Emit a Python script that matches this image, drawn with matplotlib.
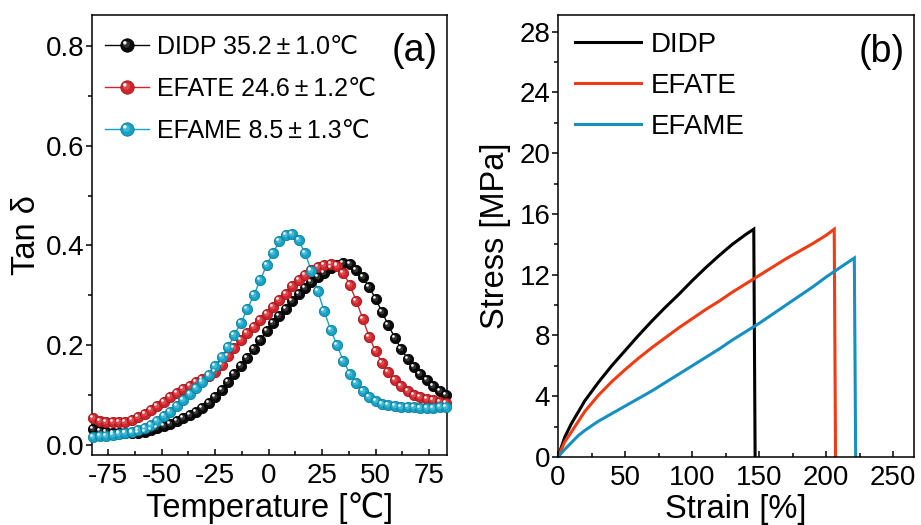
import numpy as np
import matplotlib
matplotlib.use("Agg")
import matplotlib.pyplot as plt
from matplotlib.path import Path
from matplotlib.ticker import MultipleLocator, FixedLocator
from matplotlib.legend_handler import HandlerTuple

plt.rcParams['font.family'] = ['Liberation Sans', 'DejaVu Sans']
plt.rcParams['axes.unicode_minus'] = False

# ---------------- Panel (a): DMA tan delta ----------------
temperature = [-82, -79, -76, -73, -70, -67, -64, -61, -58, -55, -52, -49, -46, -43,
               -40, -37, -34, -31, -28, -25, -22, -19, -16, -13, -10, -7, -4, -1,
               2, 5, 8, 11, 14, 17, 20, 23, 26, 29, 32, 35, 38, 41, 44, 47,
               50, 53, 56, 59, 62, 65, 68, 71, 74, 77, 80, 83]

tan_didp = [0.033, 0.029, 0.027, 0.025, 0.024, 0.024, 0.024, 0.025, 0.027, 0.030, 0.034, 0.038,
            0.043, 0.048, 0.054, 0.060, 0.067, 0.075, 0.084, 0.097, 0.111, 0.126, 0.142, 0.158,
            0.175, 0.193, 0.210, 0.229, 0.245, 0.258, 0.272, 0.288, 0.302, 0.315, 0.326, 0.336,
            0.345, 0.354, 0.360, 0.364, 0.363, 0.350, 0.336, 0.317, 0.293, 0.267, 0.240, 0.215,
            0.192, 0.173, 0.157, 0.142, 0.130, 0.119, 0.109, 0.100]

tan_efate = [0.054, 0.049, 0.046, 0.046, 0.046, 0.047, 0.050, 0.056, 0.062, 0.071, 0.079, 0.087,
             0.096, 0.104, 0.112, 0.119, 0.126, 0.133, 0.139, 0.147, 0.161, 0.178, 0.195, 0.211,
             0.224, 0.237, 0.250, 0.262, 0.276, 0.290, 0.303, 0.318, 0.330, 0.340, 0.350, 0.357,
             0.361, 0.362, 0.358, 0.345, 0.320, 0.289, 0.253, 0.217, 0.188, 0.165, 0.146, 0.130,
             0.118, 0.108, 0.101, 0.096, 0.093, 0.090, 0.087, 0.085]

tan_efame = [0.017, 0.018, 0.019, 0.020, 0.022, 0.024, 0.027, 0.030, 0.035, 0.041, 0.049, 0.058,
             0.067, 0.078, 0.090, 0.102, 0.114, 0.126, 0.140, 0.158, 0.177, 0.197, 0.220, 0.245,
             0.272, 0.300, 0.330, 0.360, 0.385, 0.408, 0.421, 0.424, 0.410, 0.385, 0.349, 0.308,
             0.268, 0.231, 0.200, 0.168, 0.143, 0.124, 0.109, 0.097, 0.089, 0.083, 0.080, 0.078,
             0.077, 0.077, 0.076, 0.075, 0.074, 0.075, 0.076, 0.077]

labels_a = ["DIDP 35.2\u2009±\u20091.0℃", "EFATE 24.6\u2009±\u20091.2℃", "EFAME 8.5\u2009±\u20091.3℃"]

# ---------------- Panel (b): stress-strain ----------------
strain_didp = [0, 5, 10, 20, 30, 40, 50, 60, 70, 80, 90, 100, 110, 120, 130, 140, 146, 147]
stress_didp = [0, 1.3, 2.2, 3.7, 4.9, 6.0, 7.0, 8.0, 8.95, 9.85, 10.7, 11.6, 12.45, 13.25, 14.0,
               14.65, 15.0, 0]

strain_efate = [0, 5, 10, 20, 30, 40, 50, 60, 70, 80, 90, 100, 110, 120, 130, 140, 150, 160, 170,
                180, 190, 200, 206, 207]
stress_efate = [0, 1.0, 1.65, 3.0, 4.05, 4.95, 5.75, 6.5, 7.2, 7.85, 8.5, 9.1, 9.7, 10.25, 10.85,
                11.4, 11.95, 12.5, 13.05, 13.55, 14.05, 14.6, 15.0, 0]

strain_efame = [0, 5, 10, 15, 20, 30, 40, 50, 60, 70, 80, 90, 100, 110, 120, 130, 140, 150, 160,
                170, 180, 190, 200, 210, 221, 222]
stress_efame = [0, 0.5, 0.95, 1.4, 1.75, 2.35, 2.85, 3.35, 3.85, 4.35, 4.9, 5.45, 6.0, 6.55, 7.1,
                7.7, 8.25, 8.8, 9.4, 10.0, 10.6, 11.2, 11.85, 12.45, 13.1, 0]

labels_b = ["DIDP", "EFATE", "EFAME"]

# colours
c_a = ["#0a0a0a", "#cf252b", "#15a2c5"]
c_a_edge = ["#000000", "#9e161b", "#0c7d99"]
c_a_mid = ["#555555", "#e86a6e", "#6fcbe2"]
c_b = ["#000000", "#f03c14", "#1590c0"]

fig = plt.figure(figsize=(9.21, 5.25), dpi=100)
ax1 = fig.add_axes([92/921, 70/525, 355/921, 440/525])
ax2 = fig.add_axes([558/921, 68/525, 356/921, 442/525])

# sphere shading: a lighter core and a white highlight, both offset to upper left
dm, rm = 0.08, 0.26
mid = Path.circle((-dm, dm), rm)
mid_scale = 2 * (dm + rm)
d, r = 0.2, 0.13
hl = Path.circle((-d, d), r)
hl_scale = 2 * (d + r)

ms = 7.4
handles = []
for y, c, ce, cm in zip([tan_didp, tan_efate, tan_efame], c_a, c_a_edge, c_a_mid):
    ln, = ax1.plot(temperature, y, '-', color=c, lw=1.0, clip_on=False, zorder=2)
    mk, = ax1.plot(temperature, y, 'o', ms=ms, mfc=c, mec=ce, mew=0.6, clip_on=False, zorder=3)
    mm, = ax1.plot(temperature, y, linestyle='none', marker=mid, ms=ms * mid_scale,
                   mfc=cm, mec='none', alpha=0.55, clip_on=False, zorder=3)
    hk, = ax1.plot(temperature, y, linestyle='none', marker=hl, ms=ms * hl_scale,
                   mfc='white', mec='none', alpha=0.95, clip_on=False, zorder=4)
    handles.append((ln, mk, mm, hk))

ax1.legend(handles, labels_a, handler_map={tuple: HandlerTuple(ndivide=1, pad=0)},
           loc='upper left', bbox_to_anchor=(0.0, 0.984), frameon=False, fontsize=18,
           handlelength=1.75, handletextpad=0.32, labelspacing=0.72, borderaxespad=0.22,
           borderpad=0.3, markerscale=1.3)

ax1.set_xlim(-82.6, 83.4)
ax1.set_ylim(-0.02, 0.862)
ax1.xaxis.set_major_locator(FixedLocator([-75, -50, -25, 0, 25, 50, 75]))
ax1.xaxis.set_minor_locator(MultipleLocator(12.5))
ax1.yaxis.set_major_locator(FixedLocator([0.0, 0.2, 0.4, 0.6, 0.8]))
ax1.yaxis.set_minor_locator(MultipleLocator(0.1))
ax1.set_yticklabels(["0.0", "0.2", "0.4", "0.6", "0.8"])
ax1.set_xlabel("Temperature [℃]", fontsize=23.5, labelpad=2)
ax1.set_ylabel("Tan δ", fontsize=23.5, labelpad=3)
ax1.text(0.975, 0.918, "(a)", transform=ax1.transAxes, fontsize=27, ha='right', va='center')

for yv, sv, c, lab in zip([stress_didp, stress_efate, stress_efame],
                          [strain_didp, strain_efate, strain_efame], c_b, labels_b):
    ax2.plot(sv, yv, '-', color=c, lw=2.2, label=lab, solid_joinstyle='miter')

ax2.legend(loc='upper left', bbox_to_anchor=(0.0, 1.0), frameon=False, fontsize=20,
           handlelength=2.4, handletextpad=0.35, labelspacing=0.55, borderaxespad=0.3,
           borderpad=0.3)
ax2.set_xlim(0, 265.5)
ax2.set_ylim(0, 29.1)
ax2.xaxis.set_major_locator(MultipleLocator(50))
ax2.xaxis.set_minor_locator(MultipleLocator(25))
ax2.yaxis.set_major_locator(MultipleLocator(4))
ax2.yaxis.set_minor_locator(MultipleLocator(2))
ax2.set_xlabel("Strain [%]", fontsize=23.5, labelpad=2)
ax2.set_ylabel("Stress [MPa]", fontsize=23.5, labelpad=6)
ax2.text(0.975, 0.916, "(b)", transform=ax2.transAxes, fontsize=27, ha='right', va='center')

for ax in (ax1, ax2):
    for s in ax.spines.values():
        s.set_linewidth(1.1)
    ax.tick_params(axis='x', which='both', direction='in', labelsize=20, width=1.1, pad=6)
    ax.tick_params(axis='y', which='both', direction='out', labelsize=20, width=1.1, pad=1)
    ax.tick_params(which='major', length=4.5)
    ax.tick_params(which='minor', length=2.8)

fig.savefig("out.png", dpi=100)
